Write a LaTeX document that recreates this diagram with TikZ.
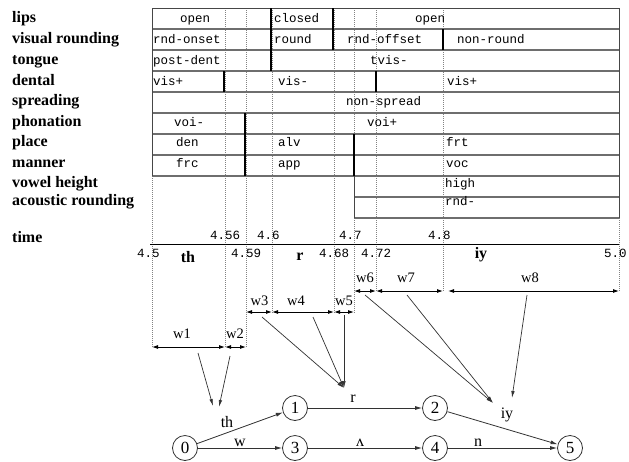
\documentclass[tikz,border=0pt]{standalone}
\usepackage{fontspec}
\setmainfont{Liberation Serif}
\newfontfamily\monof{Liberation Mono}
\usetikzlibrary{arrows.meta}
\definecolor{gridgray}{RGB}{110,110,110}
\definecolor{framegray}{RGB}{70,70,70}
\definecolor{dotgray}{RGB}{130,130,130}
\definecolor{edgegray}{RGB}{50,50,50}
\tikzset{
  cell/.style={font=\monof\fontsize{12.5}{14}\selectfont, anchor=base west, inner sep=0pt},
  rowlab/.style={font=\bfseries\fontsize{16}{18}\selectfont, anchor=base west, inner sep=0pt},
  phone/.style={font=\bfseries\fontsize{16}{18}\selectfont, anchor=base, inner sep=0pt},
  wlab/.style={font=\fontsize{14.5}{16}\selectfont, anchor=base, inner sep=0pt},
  glab/.style={font=\fontsize{16}{18}\selectfont, inner sep=0pt},
  stnode/.style={circle, draw=edgegray, line width=0.8pt, minimum size=25pt, inner sep=0pt, font=\fontsize{17}{18}\selectfont},
  hline/.style={gridgray, line width=1.3pt},
  frame/.style={framegray, line width=1pt},
  bar/.style={black, line width=2pt},
  guide/.style={dotgray, line width=0.7pt, dash pattern=on 1pt off 1pt},
  dimline/.style={black, line width=0.9pt, {Latex[length=6pt,width=4pt]}-{Latex[length=6pt,width=4pt]}},
  pointer/.style={edgegray, line width=0.7pt, -{Latex[length=7pt,width=3.5pt]}},
  gedge/.style={edgegray, line width=0.8pt, -{Latex[length=7pt,width=4pt]}},
}
\begin{document}
\begin{tikzpicture}[x=1pt,y=-1pt]
\useasboundingbox (0,0) rectangle (629,461);
\fill[white] (0,0) rectangle (629,461);

% ---- guide (dotted) lines
\draw[guide] (152,176) -- (152,347);
\draw[guide] (225,8) -- (225,347);
\draw[guide] (246,8) -- (246,347);
\draw[guide] (272,8) -- (272,313);
\draw[guide] (334,8) -- (334,313);
\draw[guide] (354,8) -- (354,313);
\draw[guide] (376,8) -- (376,292);
\draw[guide] (443,8) -- (443,292);
\draw[guide] (619,218) -- (619,292);

% ---- table grid
\foreach \y in {29,50,71,92,113,134,155} \draw[hline] (152,\y) -- (619,\y);
\draw[hline] (152,176) -- (619,176);
\draw[hline] (354,197) -- (619,197);
\draw[hline] (354,218) -- (619,218);
\draw[frame] (152,176) -- (152,8) -- (619,8) -- (619,218);
\draw[frame] (354,176) -- (354,218);

% ---- thick boundaries
\draw[bar] (271,8) -- (271,71);
\draw[bar] (333,8) -- (333,50);
\draw[bar] (443,29) -- (443,50);
\draw[bar] (224,71) -- (224,92);
\draw[bar] (376,71) -- (376,92);
\draw[bar] (245,113) -- (245,176);
\draw[bar] (354,134) -- (354,176);

% ---- row labels
\node[rowlab] (Llips)  at (12,22.5) {lips};
\node[rowlab] (Lvis)   at (12,43.5) {visual rounding};
\node[rowlab] (Lton)   at (12,64)   {tongue};
\node[rowlab] (Lden)   at (12,85)   {dental};
\node[rowlab] (Lspr)   at (12,105.5) {spreading};
\node[rowlab] (Lpho)   at (12,126)  {phonation};
\node[rowlab] (Lpla)   at (12,146.5) {place};
\node[rowlab] (Lman)   at (12,167)  {manner};
\node[rowlab] (Lvow)   at (12,187.5) {vowel height};
\node[rowlab] (Laco)   at (12,205)  {acoustic rounding};
\node[rowlab] (Ltime)  at (12,242)  {time};

% ---- cell texts
\node[cell] (c11) at (180,22.5) {open};
\node[cell] (c12) at (274,22.5) {closed};
\node[cell] (c13) at (415,22.5) {open};
\node[cell] (c21) at (153,43.5) {rnd-onset};
\node[cell] (c22) at (274,43.5) {round};
\node[cell] (c23) at (347,43.5) {rnd-offset};
\node[cell] (c24) at (457,43.5) {non-round};
\node[cell] (c31) at (153,64) {post-dent};
\node[cell] (c32) at (370,64) {tvis-};
\node[cell] (c41) at (153,85) {vis+};
\node[cell] (c42) at (278,85) {vis-};
\node[cell] (c43) at (447,85) {vis+};
\node[cell] (c51) at (346,105.5) {non-spread};
\node[cell] (c61) at (174,126) {voi-};
\node[cell] (c62) at (367,126) {voi+};
\node[cell] (c71) at (176,146.5) {den};
\node[cell] (c72) at (278,146.5) {alv};
\node[cell] (c73) at (446,146.5) {frt};
\node[cell] (c81) at (176,167) {frc};
\node[cell] (c82) at (278,167) {app};
\node[cell] (c83) at (446,167) {voc};
\node[cell] (c91) at (445,187.5) {high};
\node[cell] (c101) at (445,205) {rnd-};

% ---- time axis
\draw[black, line width=1pt] (150,244) -- (619,244);
\node[cell] (t456) at (210,239) {4.56};
\node[cell] (t46)  at (257,239) {4.6};
\node[cell] (t47)  at (339,239) {4.7};
\node[cell] (t48)  at (428,239) {4.8};
\node[cell] (t45)  at (137,257) {4.5};
\node[cell] (t459) at (231,257) {4.59};
\node[cell] (t468) at (319,257) {4.68};
\node[cell] (t472) at (361,257) {4.72};
\node[cell] (t50)  at (604,257) {5.0};
\node[phone] (pth) at (188,262) {th};
\node[phone] (pr)  at (300,260) {r};
\node[phone] (piy) at (481,258) {iy};

% ---- duration arrows
\coordinate (d1a) at (152,347); \coordinate (d1b) at (225,347);
\coordinate (d2b) at (246,347);
\coordinate (d3a) at (246,312); \coordinate (d3b) at (272,312);
\coordinate (d4b) at (334,312); \coordinate (d5b) at (354,312);
\coordinate (d6a) at (354,291); \coordinate (d6b) at (376,291);
\coordinate (d7b) at (443,291); \coordinate (d8a) at (448,291);
\coordinate (d8b) at (619,291);
\draw[dimline] (d1a) -- (d1b);
\draw[dimline] (d1b) -- (d2b);
\draw[dimline] (d3a) -- (d3b);
\draw[dimline] (d3b) -- (d4b);
\draw[dimline] (d4b) -- (d5b);
\draw[dimline] (d6a) -- (d6b);
\draw[dimline] (d6b) -- (d7b);
\draw[dimline] (d8a) -- (d8b);
\node[wlab] (w1) at (182,338) {w1};
\node[wlab] (w2) at (235,338) {w2};
\node[wlab] (w3) at (259.5,305) {w3};
\node[wlab] (w4) at (296,305) {w4};
\node[wlab] (w5) at (344,305) {w5};
\node[wlab] (w6) at (365,282) {w6};
\node[wlab] (w7) at (406,282) {w7};
\node[wlab] (w8) at (530,282) {w8};

% ---- lattice
\node[stnode] (n0) at (185,448) {0};
\node[stnode] (n1) at (295,408) {1};
\node[stnode] (n2) at (435,408) {2};
\node[stnode] (n3) at (295,448) {3};
\node[stnode] (n4) at (435,448) {4};
\node[stnode] (n5) at (570,448) {5};
\draw[gedge] (n0) -- (n1);
\draw[gedge] (n0) -- (n3);
\draw[gedge] (n1) -- (n2);
\draw[gedge] (n3) -- (n4);
\draw[gedge] (n4) -- (n5);
\draw[gedge] (n2) -- (n5);
\node[glab] (gth) at (227,422) {th};
\node[glab] (gw)  at (240,443) {w};
\node[glab] (gr)  at (353,399) {r};
\node[glab] (gv)  at (360,443) {ʌ};
\node[glab] (gn)  at (478,443) {n};
\node[glab] (giy) at (507,415) {iy};

% ---- pointers from durations to labels
\coordinate (s1) at (198,353); \coordinate (s2) at (230,356);
\coordinate (s3) at (262,317); \coordinate (s4) at (313,317);
\coordinate (s5) at (344,315); \coordinate (s6) at (365,295);
\coordinate (s7) at (407,295); \coordinate (s8) at (527,295);
\coordinate (eth1) at (213,406); \coordinate (eth2) at (219,407);
\coordinate (er) at (344,388);
\coordinate (eiy1) at (493,403); \coordinate (eiy2) at (512,398);
\draw[pointer] (s1) -- (eth1);
\draw[pointer] (s2) -- (eth2);
\draw[pointer] (s3) -- (er);
\draw[pointer] (s4) -- (er);
\draw[pointer] (s5) -- (er);
\draw[pointer] (s6) -- (eiy1);
\draw[pointer] (s7) -- (eiy1);
\draw[pointer] (s8) -- (eiy2);
\end{tikzpicture}
\end{document}
